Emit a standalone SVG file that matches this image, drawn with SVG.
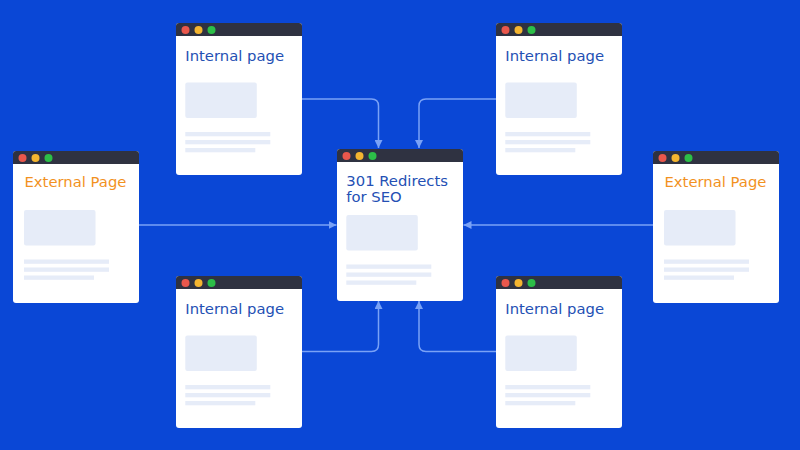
<svg xmlns="http://www.w3.org/2000/svg" width="800" height="450" viewBox="0 0 800 450">
<style>
.card{fill:#ffffff}
.bar{fill:#2f3241}
.r{fill:#e9574c}.y{fill:#f4b530}.g{fill:#2cbf48}
.ph{fill:#e6ecf8}
.t{font-family:"DejaVu Sans",sans-serif;font-size:14.8px}
.int{fill:#2450b4}
.ext{fill:#f2921f}
.conn{fill:none;stroke:#7aa2f6;stroke-width:1.5}
</style>
<defs>
<marker id="ah" viewBox="0 0 8 8" refX="8" refY="4" markerWidth="8" markerHeight="8" markerUnits="userSpaceOnUse" orient="auto">
<path d="M0,0 L8,4 L0,8 Z" fill="#7aa2f6"/>
</marker>
<g id="chrome">
<rect class="card" x="0" y="0" width="126" height="152" rx="3"/>
<path class="bar" d="M0,13 V3 Q0,0 3,0 H123 Q126,0 126,3 V13 Z"/>
<circle class="r" cx="9.5" cy="7" r="4"/>
<circle class="y" cx="22.5" cy="7" r="4"/>
<circle class="g" cx="35.5" cy="7" r="4"/>
</g>
<g id="body">
<rect class="ph" x="0" y="0" width="71.5" height="35.5" rx="2"/>
<rect class="ph" x="0" y="49.5" width="85" height="4.3"/>
<rect class="ph" x="0" y="57.5" width="85" height="4.3"/>
<rect class="ph" x="0" y="65.5" width="70" height="4.3"/>
</g>
</defs>
<rect x="0" y="0" width="800" height="450" fill="#0a47d6"/>

<g id="connectors">
<path class="conn" d="M302,99 H371.5 Q378.5,99 378.5,106 V148" marker-end="url(#ah)"/>
<path class="conn" d="M496,99 H426 Q419,99 419,106 V148" marker-end="url(#ah)"/>
<path class="conn" d="M302,351.5 H371.5 Q378.5,351.5 378.5,344.5 V301" marker-end="url(#ah)"/>
<path class="conn" d="M496,351.5 H426 Q419,351.5 419,344.5 V301" marker-end="url(#ah)"/>
<path class="conn" d="M139,225 H336.5" marker-end="url(#ah)"/>
<path class="conn" d="M653,225 H463.5" marker-end="url(#ah)"/>
</g>

<g id="internal-top-left" transform="translate(176,23)">
<use href="#chrome"/>
<text class="t int" x="9.3" y="37.5">Internal page</text>
<use href="#body" x="9.3" y="59.5"/>
</g>
<g id="internal-top-right" transform="translate(496,23)">
<use href="#chrome"/>
<text class="t int" x="9.3" y="37.5">Internal page</text>
<use href="#body" x="9.3" y="59.5"/>
</g>
<g id="internal-bottom-left" transform="translate(176,276)">
<use href="#chrome"/>
<text class="t int" x="9.3" y="37.5">Internal page</text>
<use href="#body" x="9.3" y="59.5"/>
</g>
<g id="internal-bottom-right" transform="translate(496,276)">
<use href="#chrome"/>
<text class="t int" x="9.3" y="37.5">Internal page</text>
<use href="#body" x="9.3" y="59.5"/>
</g>
<g id="external-left" transform="translate(13,151)">
<use href="#chrome"/>
<text class="t ext" x="11.5" y="36">External Page</text>
<use href="#body" x="11" y="59"/>
</g>
<g id="external-right" transform="translate(653,151)">
<use href="#chrome"/>
<text class="t ext" x="11.5" y="36">External Page</text>
<use href="#body" x="11" y="59"/>
</g>
<g id="center" transform="translate(337,149)">
<use href="#chrome"/>
<text class="t int" x="9.3" y="36.7">301 Redirects</text>
<text class="t int" x="9.3" y="53.3">for SEO</text>
<use href="#body" x="9.3" y="66"/>
</g>
</svg>
